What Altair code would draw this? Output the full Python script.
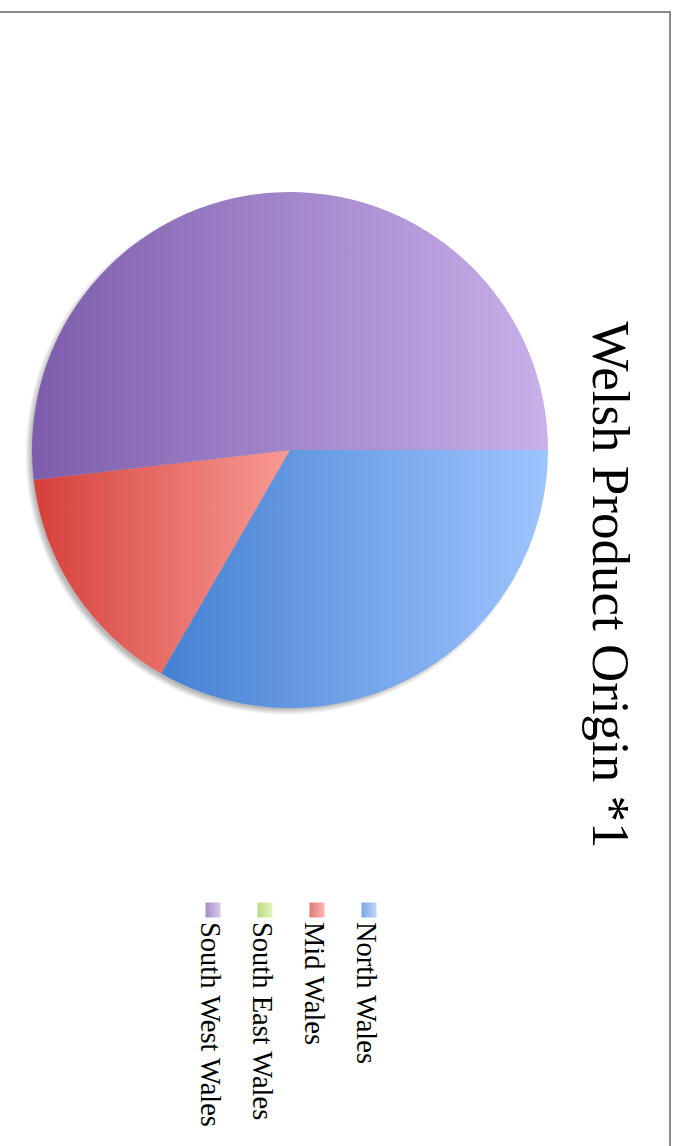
import math
import altair as alt
import pandas as pd

# ---- data ----
TITLE = "Welsh Product Origin *1"
regions = ["North Wales", "Mid Wales", "South East Wales", "South West Wales"]
values = [9, 4, 0, 14]
dark_colors = ["#4581d1", "#d5403a", "#9bc94a", "#7d5dab"]
light_colors = ["#9ec4ff", "#f99a94", "#d9f2a3", "#c8b0ea"]

df = pd.DataFrame({"region": regions, "value": values, "idx": list(range(len(regions)))})


def grad(c0, c1):
    return {
        "gradient": "linear", "x1": 0, "y1": 0, "x2": 1, "y2": 0,
        "stops": [{"offset": 0, "color": c0}, {"offset": 1, "color": c1}],
    }


gradients = [grad(a, b) for a, b in zip(dark_colors, light_colors)]
color_enc = {
    "condition": [
        {"test": f"datum.region === '{r}'", "value": g}
        for r, g in zip(regions[:-1], gradients[:-1])
    ],
    "value": gradients[-1],
}

one = alt.Data(values=[{"k": 1}])

# soft shadow behind the pie (falls to the lower left)
shadow = alt.Chart(one).mark_arc(
    theta=0, theta2=2 * math.pi, outerRadius=261,
    fill={
        "gradient": "radial", "x1": 0.5, "y1": 0.5, "r1": 0, "x2": 0.5, "y2": 0.5, "r2": 0.5,
        "stops": [
            {"offset": 0, "color": "rgba(0,0,0,0.35)"},
            {"offset": 0.975, "color": "rgba(0,0,0,0.28)"},
            {"offset": 1, "color": "rgba(0,0,0,0)"},
        ],
    },
).encode(x=alt.value(286), y=alt.value(454))

pie = alt.Chart(df).mark_arc(outerRadius=258, strokeWidth=0).encode(
    theta=alt.Theta("value:Q", stack=True,
                    scale=alt.Scale(range=[math.pi / 2, math.pi / 2 + 2 * math.pi])),
    order=alt.Order("idx:Q"),
    detail="region:N",
    color=color_enc,
    x=alt.value(290),
    y=alt.value(450),
)

title = alt.Chart(one).mark_text(
    angle=90, font="Liberation Serif", fontSize=53, align="center",
    baseline="alphabetic", color="#000000",
).encode(text=alt.value(TITLE), x=alt.value(593), y=alt.value(585))

legend_x = alt.X("region:N", sort=regions, axis=None,
                 scale=alt.Scale(type="point", range=[369, 213], padding=0))

leg_sym = alt.Chart(df).mark_square(size=225, filled=True, strokeWidth=0).encode(
    x=legend_x, y=alt.value(910), color=color_enc,
)

leg_txt = alt.Chart(df).mark_text(
    angle=90, font="Liberation Serif", fontSize=28.5, align="left",
    baseline="alphabetic", dy=12, color="#000000",
).encode(x=legend_x, y=alt.value(922), text="region:N")

border_top = alt.Chart(one).mark_rule(color="#8a8a8a", strokeWidth=2).encode(
    x=alt.value(0), x2=alt.value(671), y=alt.value(12)
)
border_right = alt.Chart(one).mark_rule(color="#8a8a8a", strokeWidth=2).encode(
    x=alt.value(670), y=alt.value(11), y2=alt.value(1146)
)

chart = alt.layer(
    shadow, pie, title, leg_sym, leg_txt, border_top, border_right
).properties(
    width=676, height=1146, autosize="none", padding=0, background="#ffffff"
).configure_view(stroke=None)

chart.save("out.html", embed_options={"renderer": "svg", "actions": False})
